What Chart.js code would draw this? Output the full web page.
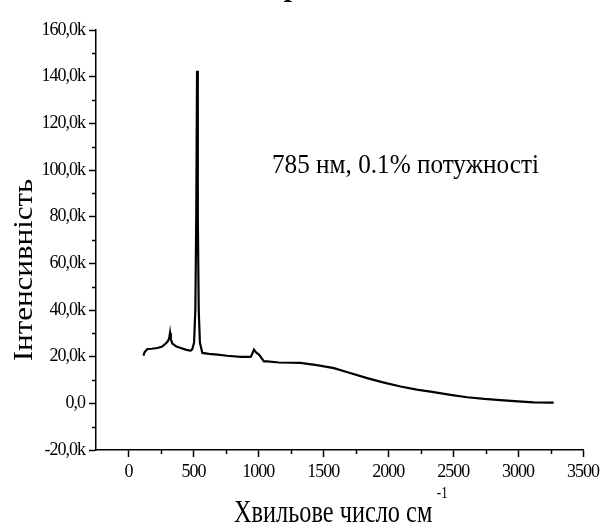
<!DOCTYPE html>
<html>
<head>
<meta charset="utf-8">
<script src="https://cdn.jsdelivr.net/npm/chart.js@4"></script>
<style>
  html, body { margin: 0; padding: 0; background: #fff; }
  #wrap { width: 613px; height: 525px; }
</style>
</head>
<body>
<div id="wrap"><canvas id="myChart" width="613" height="525"></canvas></div>
<script>
// spectrum (wave number cm-1, intensity)
const waveNumbers = [115, 125, 146, 180, 223, 260, 287, 305, 314, 320, 326, 338, 370, 402, 440, 466, 480, 492,
  505, 515, 522, 528, 534, 541, 550, 569, 620, 685, 760, 864, 941, 952, 966, 985, 1005, 1043, 1069, 1158,
  1250, 1325, 1450, 1582, 1700, 1838, 1960, 2095, 2220, 2351, 2480, 2608, 2740, 2864, 3000, 3120, 3274];
const intensity = [20400, 22000, 23300, 23400, 23700, 24300, 25600, 26800, 28000, 30200, 27500, 25600, 24300, 23700, 23000, 22700, 22600, 23300,
  26000, 40000, 80000, 142500, 80000, 40000, 26000, 21600, 21200, 20900, 20400, 19900, 19900, 21000, 23000, 21700, 20900, 18000, 18000, 17500,
  17400, 17300, 16400, 15100, 13100, 10800, 9000, 7200, 5900, 4800, 3600, 2600, 1900, 1400, 800, 400, 300];

const xMin = -250, xMax = 3500, xStep = 250;
const yMin = -20000, yMax = 160000, yStep = 10000;
const annotation = '785 нм, 0.1% потужності';
const yTitle = 'Інтенсивність';
const xTitle = 'Хвильове число см';
const xTitleSup = '-1';

const serif = "'Liberation Serif', 'Times New Roman', serif";
Chart.defaults.font.family = serif;
Chart.defaults.color = '#000';

const points = waveNumbers.map((x, i) => ({ x: x, y: intensity[i] }));

function yLabel(v) {
  if (v % 20000 !== 0) return '';
  if (v === 0) return '0,0';
  return (v / 1000).toFixed(1).replace('.', ',') + 'k';
}

// short minor ticks + texts
const extras = {
  id: 'extras',
  beforeDraw(chart) {
    chart.ctx.letterSpacing = '-1px';
  },
  afterDraw(chart) {
    const ctx = chart.ctx;
    const xs = chart.scales.x, ys = chart.scales.y;
    ctx.save();
    ctx.strokeStyle = '#000';
    ctx.lineWidth = 1.5;
    ys.ticks.forEach(t => {
      if (t.value % 20000 === 0) return;
      const py = Math.round(ys.getPixelForValue(t.value)) + 0.5;
      ctx.beginPath();
      ctx.moveTo(ys.right - 4, py);
      ctx.lineTo(ys.right, py);
      ctx.stroke();
    });
    xs.ticks.forEach(t => {
      if (t.value % 500 === 0 || t.value <= xMin) return;
      const px = Math.round(xs.getPixelForValue(t.value)) + 0.5;
      ctx.beginPath();
      ctx.moveTo(px, xs.top);
      ctx.lineTo(px, xs.top + 4);
      ctx.stroke();
    });
    ctx.restore();

    ctx.save();
    ctx.letterSpacing = '0px';
    ctx.fillStyle = '#000';
    // annotation
    ctx.save();
    ctx.translate(272, 173);
    ctx.scale(0.9, 1);
    ctx.font = '28px ' + serif;
    ctx.textBaseline = 'alphabetic';
    ctx.fillText(annotation, 0, 0);
    ctx.restore();
    // y title
    ctx.save();
    ctx.translate(32, 270);
    ctx.rotate(-Math.PI / 2);
    ctx.scale(1, 0.9);
    ctx.font = '31px ' + serif;
    ctx.textAlign = 'center';
    ctx.textBaseline = 'alphabetic';
    ctx.fillText(yTitle, 0, 0);
    ctx.restore();
    // x title
    ctx.save();
    ctx.translate(234, 522);
    ctx.scale(0.76, 1);
    ctx.font = '32px ' + serif;
    ctx.textBaseline = 'alphabetic';
    ctx.fillText(xTitle, 0, 0);
    const w = ctx.measureText(xTitle).width;
    ctx.font = '17px ' + serif;
    ctx.fillText(xTitleSup, w + 6, -24);
    ctx.restore();
    // cut-off title at the top
    ctx.font = 'bold italic 30px ' + serif;
    ctx.fillText('р', 286, -4);
    ctx.restore();
  }
};

const myChart = new Chart(document.getElementById('myChart').getContext('2d'), {
  type: 'line',
  data: {
    datasets: [{
      data: points,
      borderColor: '#000',
      borderWidth: 2.2,
      pointRadius: 0,
      tension: 0,
      fill: false
    }]
  },
  options: {
    responsive: false,
    animation: false,
    layout: { padding: { left: 0, top: 30, right: 30, bottom: 0 } },
    plugins: { legend: { display: false }, tooltip: { enabled: false }, title: { display: false } },
    scales: {
      x: {
        type: 'linear',
        min: xMin, max: xMax,
        afterFit: s => { s.height = 75; },
        border: { display: true, color: '#000', width: 1.5 },
        grid: {
          drawOnChartArea: false, drawTicks: true, tickLength: 7, tickWidth: 1.5,
          tickColor: c => (c.tick && c.tick.value % 500 === 0 && c.tick.value >= 0) ? '#000' : 'rgba(0,0,0,0)'
        },
        ticks: {
          stepSize: xStep, padding: 4, maxRotation: 0, autoSkip: false,
          font: { size: 18 },
          callback: v => (v % 500 === 0 && v >= 0) ? String(v) : ''
        }
      },
      y: {
        min: yMin, max: yMax,
        afterFit: s => { s.width = 96; },
        border: { display: true, color: '#000', width: 1.5 },
        grid: {
          drawOnChartArea: false, drawTicks: true, tickLength: 7, tickWidth: 1.5,
          tickColor: c => (c.tick && c.tick.value % 20000 === 0) ? '#000' : 'rgba(0,0,0,0)'
        },
        ticks: {
          stepSize: yStep, padding: 4, autoSkip: false,
          font: { size: 18 },
          callback: v => yLabel(v)
        }
      }
    }
  },
  plugins: [extras]
});
</script>
</body>
</html>
